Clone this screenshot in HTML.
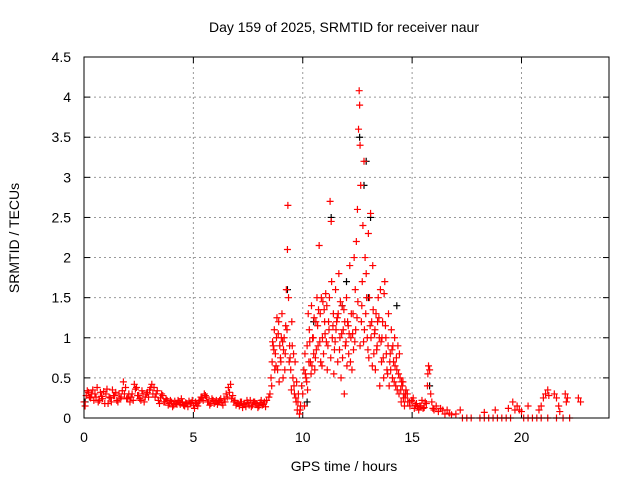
<!DOCTYPE html>
<html><head><meta charset="utf-8"><style>
html,body{margin:0;padding:0;background:#fff;}
svg text{font-family:"Liberation Sans",sans-serif;fill:#000;}
</style></head><body>
<svg id="chart" width="640" height="480" viewBox="0 0 640 480" xmlns="http://www.w3.org/2000/svg">
<rect x="0" y="0" width="640" height="480" fill="#fff"/>
<text x="344" y="32" font-size="14" text-anchor="middle">Day 159 of 2025, SRMTID for receiver naur</text>
<g id="grid"></g>
<g id="ticks"></g>
<g id="marks"></g>
<rect x="84" y="57" width="525" height="361" fill="none" stroke="#000" stroke-width="1"/>
<text x="344" y="471" font-size="14" text-anchor="middle">GPS time / hours</text>
<text x="19" y="238" font-size="14" text-anchor="middle" transform="rotate(-90 19 238)">SRMTID / TECUs</text>
</svg>
<script>
const xTicks=[0,5,10,15,20];
const xTickLabels=["0","5","10","15","20"];
const yTicks=[0,0.5,1,1.5,2,2.5,3,3.5,4,4.5];
const yTickLabels=["0","0.5","1","1.5","2","2.5","3","3.5","4","4.5"];
const redTimes=[
0,0.1,0.2,0.3,0.4,0.5,0.6,0.7,0.8,0.9,1.0,1.1,1.2,1.3,1.4,1.5,1.6,1.7,1.8,1.9,2.0,2.1,2.2,2.3,2.4,2.5,2.6,2.7,2.8,2.9,3.0,3.1,3.2,3.3,3.4,3.5,3.6,3.7,3.8,3.9,4.0,4.1,4.2,4.3,4.4,4.5,4.6,4.7,4.8,4.9,5.0,5.1,5.2,5.3,5.4,5.5,5.6,5.7,5.8,5.9,6.0,6.1,6.2,6.3,6.4,6.5,6.6,6.7,6.8,6.9,7.0,7.1,7.2,7.3,7.4,7.5,7.6,7.7,7.8,7.9,8.0,8.1,8.2,8.3,
0.05,0.15,0.25,0.35,0.45,0.55,0.65,0.75,0.85,0.95,1.05,1.15,1.25,1.35,1.45,1.55,1.65,1.75,1.85,1.95,2.05,2.15,2.25,2.35,2.45,2.55,2.65,2.75,2.85,2.95,3.05,3.15,3.25,3.35,3.45,3.55,3.65,3.75,3.85,3.95,4.05,4.15,4.25,4.35,4.45,4.55,4.65,4.75,4.85,4.95,5.05,5.15,5.25,5.35,5.45,5.55,5.65,5.75,5.85,5.95,6.05,6.15,6.25,6.35,6.45,6.55,6.65,6.75,6.85,6.95,7.05,7.15,7.25,7.35,7.45,7.55,7.65,7.75,7.85,7.95,8.05,8.15,8.25,8.35,8.45,
8.5,8.55,8.6,8.65,8.7,8.75,8.8,8.85,8.9,8.95,9.0,9.05,9.1,9.15,9.2,9.25,9.3,9.32,9.35,9.4,9.45,9.5,9.55,9.6,9.65,9.7,9.75,9.8,9.85,9.9,9.95,10.0,10.05,10.1,10.15,10.2,10.25,10.3,10.35,10.4,10.45,10.5,10.55,10.6,10.65,10.7,10.75,10.8,10.85,10.9,10.95,11.0,11.05,11.1,11.15,11.2,11.25,11.3,11.35,11.4,11.45,11.5,11.55,11.6,11.65,11.7,11.75,11.8,11.85,11.9,11.95,12.0,12.05,12.1,12.15,12.2,12.25,12.3,12.35,12.4,12.45,12.5,12.55,12.58,12.6,12.62,12.65,12.7,12.75,12.8,12.85,12.9,12.95,13.0,13.05,13.1,13.15,13.2,13.25,13.3,13.35,13.4,13.45,13.5,13.55,13.6,13.65,13.7,13.75,13.8,13.85,13.9,13.95,14.0,14.05,14.1,14.15,14.2,14.25,14.3,14.35,14.4,14.45,14.5,14.55,14.6,14.65,14.7,14.8,14.9,15.0,15.1,15.2,15.3,15.4,15.5,15.6,15.7,15.75,15.8,15.85,15.9,16.0,16.1,16.2,16.3,16.4,16.5,16.6,16.7,16.8,17.0,17.2,
8.62,8.72,8.82,8.92,9.02,9.12,9.22,9.42,9.52,9.62,9.72,9.88,10.12,10.22,10.32,10.42,10.52,10.62,10.72,10.82,10.92,11.02,11.12,11.22,11.32,11.42,11.52,11.62,11.72,11.82,11.92,12.02,12.12,12.22,12.32,12.42,12.52,12.62,12.72,12.82,12.92,13.02,13.12,13.22,13.32,13.42,13.52,13.62,13.72,13.82,13.92,14.02,14.12,14.22,14.32,14.42,14.52,14.62,14.72,15.05,15.25,15.45,15.65,15.72,15.95,
8.58,8.68,8.78,8.88,8.98,9.08,9.18,9.28,9.38,9.48,9.58,9.68,9.78,10.08,10.18,10.28,10.38,10.48,10.58,10.68,10.78,10.88,10.98,11.08,11.18,11.28,11.38,11.48,11.58,11.68,11.78,11.88,11.98,12.08,12.18,12.28,12.38,12.48,12.68,12.78,12.88,12.98,13.08,13.18,13.28,13.38,13.48,13.58,13.68,13.78,13.88,13.98,14.08,14.18,14.28,14.38,14.48,14.58,14.68,14.78,14.88,14.98,15.15,15.35,15.55,
18.3,18.8,19.4,19.6,19.7,19.8,19.9,20.0,20.3,20.8,20.9,21.0,21.1,21.2,21.25,21.5,21.6,21.7,21.75,22.0,22.05,22.1,22.6,22.7,
17.3,17.5,17.7,18.1,18.3,18.5,18.7,18.9,19.1,19.3,19.5,20.1,20.3,20.5,20.7,20.9,21.2,21.6,21.9,22.2
];
const redValues=[
.20,.28,.32,.25,.35,.30,.38,.22,.27,.33,.30,.18,.25,.35,.28,.22,.30,.26,.45,.38,.25,.20,.30,.42,.38,.28,.22,.30,.26,.32,.35,.42,.38,.30,.22,.25,.28,.20,.22,.18,.20,.16,.18,.22,.17,.20,.15,.18,.21,.19,.16,.20,.15,.22,.25,.30,.26,.20,.18,.22,.20,.17,.22,.19,.24,.30,.38,.42,.28,.22,.18,.15,.20,.17,.14,.19,.22,.16,.20,.18,.15,.22,.17,.14,
.15,.34,.26,.30,.22,.26,.20,.32,.24,.18,.36,.26,.20,.28,.32,.20,.24,.34,.30,.24,.30,.26,.22,.36,.28,.24,.34,.20,.30,.26,.38,.30,.26,.34,.18,.30,.20,.24,.16,.22,.14,.21,.17,.19,.24,.16,.19,.14,.18,.22,.12,.18,.20,.26,.22,.28,.20,.16,.24,.18,.22,.20,.24,.16,.20,.26,.32,.24,.20,.16,.18,.20,.13,.18,.22,.16,.14,.20,.18,.13,.19,.16,.20,.22,.26,
.30,.50,.70,.90,1.10,.80,1.00,.60,1.20,.90,.70,1.30,.50,1.00,.80,1.60,2.10,2.65,1.50,.90,.60,1.20,.50,.40,.70,.20,.10,.30,.05,.15,.40,.30,.60,.80,.50,.90,1.30,1.10,.70,1.40,1.00,.80,.60,1.20,1.50,.90,2.15,1.30,1.50,1.00,.80,1.20,1.55,1.40,.90,1.10,2.70,2.45,1.00,1.30,.85,1.60,1.20,.70,1.80,1.00,.50,1.40,1.10,.30,.90,1.50,1.20,.80,1.90,1.00,.60,1.30,2.00,1.60,2.20,2.60,3.60,4.08,3.90,3.40,2.90,1.40,2.40,3.20,2.00,1.80,1.00,2.30,1.50,2.55,1.20,1.90,.80,1.10,1.30,.90,1.50,1.00,1.60,.70,1.20,.50,1.70,1.00,.60,.90,.40,.80,1.10,.50,.70,1.00,.40,.60,.90,.30,.50,.20,.40,.25,.15,.30,.20,.15,.20,.12,.18,.10,.15,.12,.20,.40,.65,.60,.30,.20,.10,.15,.08,.12,.10,.05,.10,.06,.04,.05,.10,
.95,.60,1.25,.45,1.00,.85,1.15,.75,.90,.30,.45,.10,.55,.35,.95,.65,1.25,.85,1.35,.70,1.45,1.05,.60,1.50,1.70,.55,1.10,1.30,1.45,.75,1.20,.65,1.05,1.30,.85,1.10,1.45,.90,1.70,1.10,1.50,.75,1.00,1.35,.60,1.20,.40,1.00,1.55,.80,1.30,.60,.90,.65,.35,.80,.45,.30,.35,.25,.14,.22,.18,.55,.12,
.40,.85,.65,1.05,.75,.95,.60,1.10,.70,.35,.80,.25,.20,.15,.45,.70,.55,1.00,.75,1.15,.95,.65,1.35,.95,1.20,.75,1.15,.95,1.25,.85,1.05,1.35,.95,1.15,.70,1.05,.95,1.25,1.20,.95,1.30,.85,1.15,.65,1.05,.85,1.25,.95,.75,1.15,.55,.70,.85,.45,.75,.55,.35,.45,.25,.30,.20,.22,.16,.15,.13,
.07,.10,.12,.20,.10,.15,.10,.08,.15,.10,.15,.25,.30,.35,.28,.30,.25,.15,.08,.30,.20,.25,.25,.20,
0,0,0,0,0,0,0,0,0,0,0,0,0,0,0,0,0,0,0,0
];
const blackTimes=[0.05,9.3,10.2,10.5,11.3,11.8,12.0,12.6,12.8,12.9,13.0,13.1,14.3,15.8];
const blackValues=[0.2,1.6,0.2,1.2,2.5,1.4,1.7,3.5,2.9,3.2,1.5,2.5,1.4,0.4];

const NS='http://www.w3.org/2000/svg';
const L=84,R=609,T=57,B=418,X0=0,X1=24,Y0=0,Y1=4.5;
function xs(v){return L+(v-X0)/(X1-X0)*(R-L);}
function ys(v){return B-(v-Y0)/(Y1-Y0)*(B-T);}
const grid=document.getElementById('grid'),ticks=document.getElementById('ticks'),marks=document.getElementById('marks');
function mk(tag,attrs,parent){const e=document.createElementNS(NS,tag);for(const k in attrs)e.setAttribute(k,attrs[k]);parent.appendChild(e);return e;}
xTicks.forEach((v,i)=>{
  const x=xs(v);
  if(v>X0){const g=mk('line',{x1:x,x2:x,y1:T,y2:B,stroke:'#999','stroke-dasharray':'2,3'},grid);
  
  }
  const t=mk('line',{x1:x,x2:x,y1:B,y2:B-6,stroke:'#000'},ticks);
  
  
  const t2=mk('line',{x1:x,x2:x,y1:T,y2:T+6,stroke:'#000'},ticks);
  
  
  const tx=mk('text',{x:x,y:B+24,'font-size':'14','text-anchor':'middle'},ticks);
  tx.textContent=xTickLabels[i];
  
  
});
yTicks.forEach((v,i)=>{
  const y=ys(v);
  if(v>Y0&&v<Y1){const g=mk('line',{x1:L,x2:R,y1:y,y2:y,stroke:'#999','stroke-dasharray':'2,3'},grid);
  
  }
  const t=mk('line',{x1:L,x2:L+6,y1:y,y2:y,stroke:'#000'},ticks);
  
  
  const t2=mk('line',{x1:R,x2:R-6,y1:y,y2:y,stroke:'#000'},ticks);
  
  
  const tx=mk('text',{x:L-13,y:y+5,'font-size':'14','text-anchor':'end'},ticks);
  tx.textContent=yTickLabels[i];
  
  
});
function plus(t,v,color){
  const x=xs(t),y=ys(v);
  const p=mk('path',{d:`M${x-3.5},${y}H${x+3.5}M${x},${y-3.5}V${y+3.5}`,stroke:color,'stroke-width':'1.2',fill:'none'},marks);
  
  
}
blackTimes.forEach((t,i)=>plus(t,blackValues[i],'#000'));
redTimes.forEach((t,i)=>plus(t,redValues[i],'#ff0000'));
</script>
</body></html>
